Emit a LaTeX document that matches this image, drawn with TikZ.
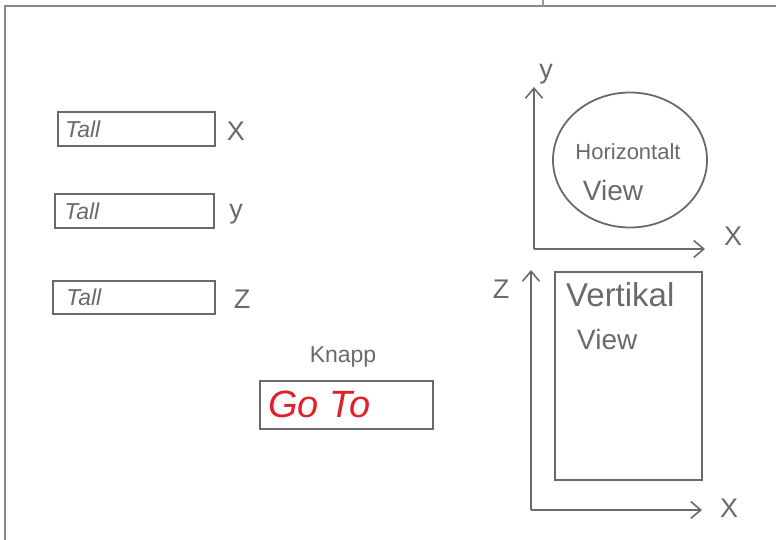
\documentclass[tikz,border=0pt]{standalone}
\usepackage{fontspec}
\setmainfont{Liberation Sans}
\usetikzlibrary{arrows.meta,shapes.geometric}
\definecolor{ink}{HTML}{6A6A6A}
\definecolor{redink}{HTML}{E0202A}
\tikzset{
  line/.style={draw=ink,line width=1.8pt},
  field/.style={line,rectangle,inner sep=0pt},
  handtext/.style={text=ink,inner sep=0pt,font=\fontsize{23}{25}\selectfont\itshape},
  axislabel/.style={text=ink,inner sep=0pt,font=\fontsize{27}{29}\selectfont},
  axis/.style={draw=ink,line width=1.8pt,-{Straight Barb[length=10pt,width=17pt,line width=1.6pt]}},
}
\begin{document}
\begin{tikzpicture}[x=1pt,y=-1pt]
\useasboundingbox (0,0) rectangle (776,540);
% frame
\draw[draw=ink!80,line width=2.4pt] (776,6) -- (5,6) -- (5,540);
\draw[draw=ink!70,line width=1.2pt] (543,0) -- (543,6);

% input fields
\node[field,minimum width=157pt,minimum height=34pt] (f1) at (136.5,129) {};
\node[field,minimum width=159pt,minimum height=34pt] (f2) at (134.5,211) {};
\node[field,minimum width=162pt,minimum height=33pt] (f3) at (134,297.5) {};
\node[handtext,anchor=west] (t1) at ([xshift=8pt]f1.west) {Tall};
\node[handtext,anchor=west] (t2) at ([xshift=10pt]f2.west) {Tall};
\node[handtext,anchor=west] (t3) at ([xshift=14pt]f3.west) {Tall};
\node[axislabel] (lx) at (236,131) {X};
\node[axislabel] (ly) at (236,214) {y};
\node[axislabel] (lz) at (242,299) {Z};

% button
\node[text=ink,inner sep=0pt,font=\fontsize{23}{25}\selectfont] (knapp) at (343,357) {Knapp};
\node[field,minimum width=173pt,minimum height=48pt] (btn) at (346.5,405) {};
\node[text=redink,inner sep=0pt,anchor=west,font=\fontsize{38}{40}\selectfont\itshape] (goto) at ([xshift=9pt,yshift=1pt]btn.west) {Go To};

% horizontal view
\coordinate (o1) at (534,249);
\coordinate (y1) at (534,87);
\coordinate (x1) at (705,249);
\draw[axis] (o1) -- (y1);
\draw[axis] (o1) -- (x1);
\node[axislabel] (ly1) at (546,74) {y};
\node[axislabel] (lx1) at (733,236) {X};
\node[ellipse,line,minimum width=154pt,minimum height=135pt,inner sep=0pt] (hv) at (630,160) {};
\node[text=ink,inner sep=0pt,font=\fontsize{22}{24}\selectfont] (hvt1) at (628,152) {Horizontalt};
\node[text=ink,inner sep=0pt,font=\fontsize{28}{30}\selectfont] (hvt2) at (613,190) {View};

% vertical view
\coordinate (o2) at (531,510);
\coordinate (z2) at (531,270);
\coordinate (x2) at (702,510);
\draw[axis] (o2) -- (z2);
\draw[axis] (o2) -- (x2);
\node[axislabel] (lz2) at (501,289) {Z};
\node[axislabel] (lx2) at (729,508) {X};
\node[field,minimum width=147pt,minimum height=208pt] (vv) at (628.5,376) {};
\node[text=ink,inner sep=0pt,anchor=west,font=\fontsize{33}{35}\selectfont] (vvt1) at (566,295) {Vertikal};
\node[text=ink,inner sep=0pt,anchor=west,font=\fontsize{28}{30}\selectfont] (vvt2) at (577,339) {View};
\end{tikzpicture}
\end{document}
